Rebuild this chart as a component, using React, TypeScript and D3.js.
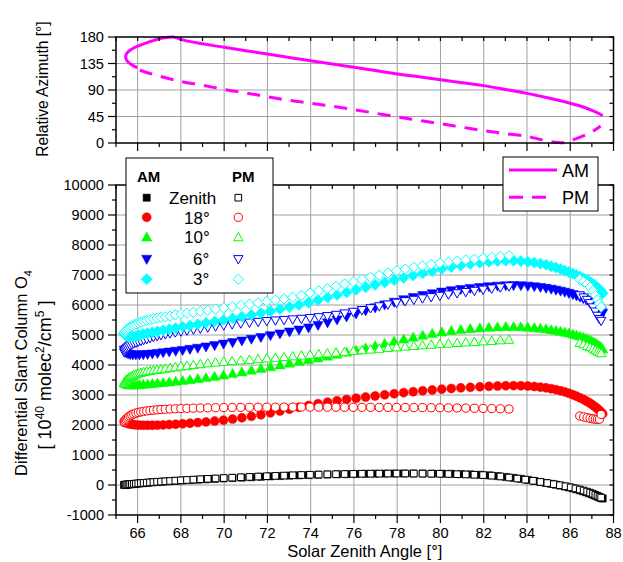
import React from 'react';
import * as d3 from 'd3';

// ---------------- data ----------------
// Morning (AM) solar zenith angles
const szaAM = [
  65.38, 65.42, 65.48, 65.56, 65.66, 65.78, 65.92, 66.08, 66.26, 66.46,
  66.68, 66.92, 67.18, 67.46, 67.76, 68.08, 68.42, 68.78, 69.16, 69.56,
  69.97, 70.39, 70.82, 71.26, 71.70, 72.14, 72.58, 73.02, 73.46, 73.90,
  74.34, 74.78, 75.22, 75.66, 76.10, 76.54, 76.98, 77.42, 77.86, 78.30,
  78.74, 79.18, 79.62, 80.06, 80.50, 80.94, 81.38, 81.82, 82.24, 82.64,
  83.02, 83.38, 83.72, 84.04, 84.34, 84.62, 84.88, 85.12, 85.34, 85.55,
  85.75, 85.94, 86.12, 86.29, 86.45, 86.60, 86.74, 86.87, 86.99, 87.10,
  87.20, 87.29, 87.37, 87.44, 87.50,
];
const zenithAM = [
  0, 5, 10, 15, 22, 30, 40, 50, 62, 75,
  88, 100, 112, 125, 138, 150, 163, 176, 190, 204,
  218, 232, 246, 260, 274, 288, 300, 312, 323, 333,
  342, 350, 357, 363, 369, 374, 378, 381, 383, 384,
  384, 383, 381, 378, 372, 364, 354, 341, 322, 298,
  268, 238, 205, 170, 135, 100, 68, 37, 8, -20,
  -50, -80, -112, -145, -178, -210, -243, -275, -307, -338,
  -368, -395, -418, -435, -450,
];
const deg18AM = [
  2130, 2100, 2075, 2050, 2030, 2015, 2003, 1995, 1990, 1988,
  1990, 1995, 2003, 2013, 2026, 2042, 2060, 2080, 2103, 2130,
  2162, 2198, 2240, 2288, 2340, 2405, 2465, 2528, 2590, 2652,
  2710, 2762, 2810, 2852, 2892, 2930, 2968, 3005, 3042, 3078,
  3110, 3140, 3168, 3195, 3218, 3238, 3256, 3273, 3288, 3300,
  3310, 3312, 3308, 3298, 3282, 3262, 3238, 3210, 3178, 3142,
  3102, 3058, 3010, 2960, 2908, 2855, 2800, 2745, 2690, 2635,
  2580, 2525, 2470, 2420, 2370,
];
const deg10AM = [
  3420, 3385, 3360, 3342, 3332, 3330, 3334, 3342, 3352, 3364,
  3378, 3394, 3412, 3432, 3455, 3480, 3508, 3540, 3576, 3616,
  3660, 3710, 3765, 3822, 3880, 3940, 4000, 4058, 4115, 4170,
  4228, 4290, 4355, 4422, 4492, 4565, 4640, 4715, 4790, 4860,
  4925, 4985, 5045, 5100, 5142, 5178, 5208, 5233, 5253, 5266,
  5274, 5276, 5270, 5258, 5242, 5222, 5198, 5172, 5145, 5118,
  5090, 5062, 5030, 4995, 4960, 4922, 4885, 4845, 4805, 4762,
  4718, 4672, 4625, 4580, 4530,
];
const deg6AM = [
  4500, 4440, 4400, 4370, 4350, 4340, 4338, 4340, 4345, 4355,
  4370, 4390, 4412, 4436, 4462, 4490, 4525, 4562, 4605, 4650,
  4700, 4750, 4805, 4862, 4920, 4980, 5040, 5105, 5170, 5240,
  5320, 5410, 5505, 5605, 5705, 5810, 5910, 6005, 6095, 6180,
  6255, 6320, 6380, 6435, 6482, 6522, 6557, 6587, 6612, 6632,
  6645, 6650, 6645, 6632, 6612, 6588, 6560, 6530, 6498, 6465,
  6430, 6392, 6352, 6310, 6265, 6218, 6170, 6120, 6068, 6015,
  5960, 5905, 5850, 5790, 5730,
];
const deg3AM = [
  5060, 5010, 4975, 4955, 4945, 4945, 4960, 4990, 5030, 5060,
  5090, 5120, 5155, 5190, 5230, 5275, 5315, 5358, 5402, 5450,
  5500, 5552, 5608, 5668, 5730, 5795, 5862, 5930, 6000, 6080,
  6165, 6250, 6335, 6420, 6505, 6590, 6672, 6752, 6830, 6905,
  6985, 7060, 7132, 7200, 7262, 7318, 7366, 7408, 7440, 7463,
  7478, 7478, 7465, 7440, 7410, 7378, 7342, 7290, 7245, 7195,
  7145, 7095, 7045, 6995, 6945, 6895, 6845, 6790, 6735, 6680,
  6620, 6560, 6500, 6445, 6390,
];

// Afternoon (PM) solar zenith angles
const szaPM = [
  65.38, 65.40, 65.43, 65.47, 65.52, 65.58, 65.65, 65.73, 65.82, 65.92,
  66.03, 66.15, 66.28, 66.42, 66.57, 66.73, 66.90, 67.08, 67.28, 67.50,
  67.74, 68.00, 68.28, 68.58, 68.90, 69.24, 69.60, 69.98, 70.37, 70.77,
  71.17, 71.57, 71.97, 72.37, 72.77, 73.17, 73.57, 73.97, 74.37, 74.77,
  75.17, 75.57, 75.97, 76.37, 76.77, 77.17, 77.57, 77.97, 78.37, 78.77,
  79.17, 79.57, 79.97, 80.37, 80.77, 81.17, 81.57, 81.97, 82.37, 82.77,
  83.17, 83.55, 83.92, 84.28, 84.62, 84.94, 85.24, 85.52, 85.78, 86.02,
  86.24, 86.44, 86.62, 86.78, 86.92, 87.05, 87.16, 87.26, 87.35, 87.43,
];
const N = null;
const zenithPM = [
  0, 3, 7, 11, 16, 21, 27, 33, 40, 47,
  54, 62, 70, 78, 87, 96, 105, 114, 124, 134,
  145, 156, 168, 180, 193, 206, 219, 232, 245, 258,
  270, 282, 293, 304, 314, 324, 333, 341, 348, 355,
  361, 366, 370, 374, 377, 379, 381, 382, 382, 381,
  379, 376, 372, 367, 360, 352, 342, 330, 312, 285,
  250, 215, 178, 140, 102, 65, 28, -8, -44, -80,
  -115, -150, -185, -220, -255, -290, -325, -360, -392, -420,
];
const deg18PM = [
  2080, 2110, 2150, 2190, 2230, 2270, 2305, 2338, 2368, 2395,
  2418, 2438, 2455, 2470, 2483, 2495, 2506, 2516, 2525, 2533,
  2541, 2548, 2555, 2561, 2567, 2572, 2577, 2581, 2585, 2588,
  2591, 2593, 2595, 2596, 2597, 2597, 2597, 2596, 2595, 2594,
  2593, 2592, 2591, 2590, 2589, 2588, 2587, 2586, 2584, 2582,
  2580, 2577, 2574, 2571, 2567, 2563, 2558, 2553, 2547, 2540,
  2532, N, N, N, N, N, N, N, N, N,
  N, 2300, 2270, 2245, 2222, 2205, 2193, 2188, 2195, 2350,
];
const deg10PM = [
  3390, 3420, 3455, 3490, 3525, 3560, 3595, 3628, 3660, 3690,
  3717, 3742, 3765, 3786, 3805, 3823, 3840, 3858, 3878, 3900,
  3924, 3950, 3975, 4000, 4030, 4058, 4083, 4108, 4130, 4152,
  4175, 4197, 4220, 4243, 4266, 4290, 4315, 4340, 4365, 4390,
  4415, 4440, 4466, 4492, 4518, 4543, 4568, 4592, 4615, 4637,
  4658, 4678, 4697, 4716, 4735, 4753, 4771, 4789, 4807, 4825,
  4843, N, N, N, N, N, N, N, N, N,
  N, 4740, 4690, 4640, 4595, 4550, 4500, 4455, 4420, 4395,
];
const deg6PM = [
  4420, 4455, 4495, 4535, 4575, 4615, 4652, 4688, 4718, 4745,
  4775, 4805, 4835, 4865, 4895, 4930, 4962, 4995, 5025, 5055,
  5085, 5118, 5150, 5182, 5215, 5250, 5285, 5320, 5355, 5385,
  5412, 5437, 5462, 5482, 5500, 5518, 5538, 5562, 5592, 5628,
  5670, 5718, 5770, 5830, 5892, 5955, 6015, 6075, 6125, 6172,
  6218, 6262, 6305, 6348, 6390, 6430, 6470, 6510, 6548, 6585,
  6622, N, N, N, N, N, N, N, N, N,
  N, 6320, 6250, 6170, 6060, 5920, 5780, 5640, 5530, 5470,
];
const deg3PM = [
  5060, 5090, 5120, 5155, 5190, 5228, 5265, 5300, 5335, 5368,
  5398, 5428, 5458, 5487, 5515, 5540, 5563, 5585, 5607, 5630,
  5670, 5700, 5730, 5758, 5788, 5820, 5860, 5900, 5945, 5990,
  6030, 6072, 6115, 6160, 6207, 6258, 6320, 6395, 6470, 6545,
  6622, 6700, 6775, 6850, 6922, 6995, 7068, 7140, 7200, 7255,
  7305, 7350, 7395, 7432, 7468, 7500, 7530, 7560, 7590, 7620,
  7650, N, N, N, N, N, N, N, N, N,
  N, 6850, 6780, 6700, 6600, 6470, 6320, 6170, 6040, 5930,
];

// Relative azimuth (top panel)
const azAMsza = [
  87.50, 87.30, 87.00, 86.70, 86.30, 86.00, 85.50, 85.00, 84.50, 84.00,
  83.00, 82.00, 81.00, 80.00, 79.00, 78.00, 77.00, 76.00, 75.00, 74.00,
  73.00, 72.00, 71.00, 70.00, 69.00, 68.30, 67.95, 67.65, 67.35, 67.00,
  66.72, 66.40, 66.10, 65.80, 65.58, 65.47, 65.45, 65.52, 65.70, 65.98,
];
const azAMval = [
  46.4, 50.5, 55.5, 59.8, 64.5, 67.6, 72.2, 76.5, 80.5, 84.3,
  91.0, 97.4, 102.5, 107.5, 112.4, 117.2, 123.0, 128.8, 134.0, 139.5,
  145.2, 151.1, 156.8, 162.5, 168.5, 173.0, 176.5, 180.0, 179.2, 177.0,
  173.8, 170.0, 165.8, 161.0, 155.5, 150.5, 145.0, 139.0, 133.5, 128.0,
];
const azPMsza = [
  66.10, 66.49, 67.03, 68.00, 69.00, 70.00, 71.00, 72.00, 73.00, 74.00,
  75.00, 76.00, 77.00, 78.00, 79.00, 80.00, 81.00, 82.00, 83.00, 84.00,
  84.50, 85.05, 85.40, 85.70, 86.00, 86.40, 86.74, 87.00, 87.28, 87.40,
];
const azPMval = [
  123.5, 118.9, 113.2, 104.5, 98.0, 91.0, 85.0, 78.5, 72.5, 67.5,
  62.3, 56.6, 50.5, 44.2, 38.5, 32.8, 26.8, 20.9, 16.0, 11.3,
  7.0, 2.8, 1.0, 0.6, 4.0, 9.0, 14.2, 19.0, 25.5, 29.0,
];

// Tick labels
const xTickLabels = [66, 68, 70, 72, 74, 76, 78, 80, 82, 84, 86, 88];
const yMainTickLabels = [-1000, 0, 1000, 2000, 3000, 4000, 5000, 6000, 7000, 8000, 9000, 10000];
const yTopTickLabels = [0, 45, 90, 135, 180];

// Series legend names / colours / symbols
const seriesNames = ['Zenith', '18°', '10°', '6°', '3°'];
const seriesColors = ['#000000', '#FF0000', '#00FF00', '#0000FF', '#00FFFF'];
const seriesShapes = ['square', 'circle', 'up', 'down', 'diamond'];
const amValues = [zenithAM, deg18AM, deg10AM, deg6AM, deg3AM];
const pmValues = [zenithPM, deg18PM, deg10PM, deg6PM, deg3PM];

// ---------------- drawing ----------------
const FONT = '"Liberation Sans", Arial, Helvetica, sans-serif';

function shapePath(shape: string, filled: boolean): string {
  const k = filled ? 1 : 0.92;
  switch (shape) {
    case 'square': {
      const r = 3.6 * k;
      return `M${-r},${-r}H${r}V${r}H${-r}Z`;
    }
    case 'circle': {
      const r = filled ? 4.5 : 4.1;
      return `M${r},0A${r},${r},0,1,1,${-r},0A${r},${r},0,1,1,${r},0Z`;
    }
    case 'up':
      return `M0,${-5.2 * k}L${5.1 * k},${3.9 * k}L${-5.1 * k},${3.9 * k}Z`;
    case 'down':
      return `M0,${5.2 * k}L${5.1 * k},${-3.9 * k}L${-5.1 * k},${-3.9 * k}Z`;
    default:
      return `M0,${-5.6 * k}L${5.6 * k},0L0,${5.6 * k}L${-5.6 * k},0Z`;
  }
}

function Marker({ shape, filled, color, cx, cy }: any) {
  return (
    <path
      d={shapePath(shape, filled)}
      transform={`translate(${cx},${cy})`}
      fill={filled ? color : '#FFFFFF'}
      stroke={color}
      strokeWidth={filled ? 0.5 : 1}
    />
  );
}

export default function App() {
  const XL = 116, XR = 613.5;
  const x = d3.scaleLinear().domain([65, 88]).range([XL, XR]);
  const yT = d3.scaleLinear().domain([0, 180]).range([143, 37]);
  const yM = d3.scaleLinear().domain([-1000, 10000]).range([515, 185]);

  const xMinor = d3.range(65, 88.001, 1);
  const yTopMinor = d3.range(0, 180.001, 22.5);
  const yMainMinor = d3.range(-1000, 10000.001, 500);

  const line = d3
    .line<[number, number]>()
    .x((d) => x(d[0]))
    .y((d) => yT(d[1]))
    .curve(d3.curveCatmullRom.alpha(0.5));
  const amPath = line(azAMsza.map((s, i) => [s, azAMval[i]] as [number, number])) || '';
  const pmPath = line(azPMsza.map((s, i) => [s, azPMval[i]] as [number, number])) || '';

  const grid = '#A0A0A0';
  const magenta = '#FF00FF';

  const frame = (top: number, bottom: number) => (
    <rect x={XL} y={top} width={XR - XL} height={bottom - top} fill="none" stroke="#000" strokeWidth={1.5} />
  );

  // legend row positions
  const legRows = [197.7, 217.3, 237.2, 259.2, 279.2];
  const legLabelX = [169, 184, 184, 193, 193];

  return (
    <svg
      width={623}
      height={562}
      viewBox="0 0 623 562"
      style={{ position: 'absolute', left: 0, top: 0, background: '#fff' }}
      fontFamily={FONT}
    >
      <rect x={0} y={0} width={623} height={562} fill="#fff" />

      {/* ---------- top panel ---------- */}
      <g>
        {xTickLabels.filter((t) => t < 88).map((t) => (
          <line key={'tgx' + t} x1={x(t)} x2={x(t)} y1={yT(0)} y2={yT(180)} stroke={grid} strokeWidth={1} />
        ))}
        {yTopTickLabels.filter((t) => t > 0 && t < 180).map((t) => (
          <line key={'tgy' + t} x1={XL} x2={XR} y1={yT(t)} y2={yT(t)} stroke={grid} strokeWidth={1} />
        ))}
        <path d={amPath} fill="none" stroke={magenta} strokeWidth={3} />
        <path d={pmPath} fill="none" stroke={magenta} strokeWidth={3} strokeDasharray="13,9" />
        {frame(37, 143)}
        {xMinor.map((t) => {
          const major = Math.round(t) % 2 === 0;
          return (
            <g key={'ttx' + t}>
              <line x1={x(t)} x2={x(t)} y1={143} y2={143 + (major ? 8 : 4)} stroke="#000" strokeWidth={1.2} />
              <line x1={x(t)} x2={x(t)} y1={37} y2={37 + 4} stroke="#000" strokeWidth={1.2} />
            </g>
          );
        })}
        {yTopMinor.map((t) => {
          const major = t % 45 === 0;
          return (
            <g key={'tty' + t}>
              <line x1={XL - (major ? 8 : 4)} x2={XL} y1={yT(t)} y2={yT(t)} stroke="#000" strokeWidth={1.2} />
              <line x1={XR - 4} x2={XR} y1={yT(t)} y2={yT(t)} stroke="#000" strokeWidth={1.2} />
            </g>
          );
        })}
        {yTopTickLabels.map((t) => (
          <text key={'tyl' + t} x={104} y={yT(t)} dy="0.36em" textAnchor="end" fontSize={14.6}>
            {t}
          </text>
        ))}
        <text transform={`translate(47.5,89) rotate(-90)`} textAnchor="middle" fontSize={15.6}>
          Relative Azimuth [°]
        </text>
      </g>

      {/* ---------- main panel ---------- */}
      <g>
        {xTickLabels.filter((t) => t < 88).map((t) => (
          <line key={'mgx' + t} x1={x(t)} x2={x(t)} y1={yM(-1000)} y2={yM(10000)} stroke={grid} strokeWidth={1} />
        ))}
        {yMainTickLabels.filter((t) => t > -1000 && t < 10000).map((t) => (
          <line key={'mgy' + t} x1={XL} x2={XR} y1={yM(t)} y2={yM(t)} stroke={grid} strokeWidth={1} />
        ))}

        {seriesNames.map((name, si) => (
          <g key={'s' + si}>
            {amValues[si].map((v, i) =>
              v === null ? null : (
                <Marker key={'a' + i} shape={seriesShapes[si]} filled={true} color={seriesColors[si]} cx={x(szaAM[i])} cy={yM(v as number)} />
              )
            )}
            {pmValues[si].map((v, i) =>
              v === null ? null : (
                <Marker key={'p' + i} shape={seriesShapes[si]} filled={false} color={seriesColors[si]} cx={x(szaPM[i])} cy={yM(v as number)} />
              )
            )}
          </g>
        ))}

        {frame(185, 515)}
        {xMinor.map((t) => {
          const major = Math.round(t) % 2 === 0;
          return (
            <g key={'mtx' + t}>
              <line x1={x(t)} x2={x(t)} y1={515} y2={515 + (major ? 8 : 4)} stroke="#000" strokeWidth={1.2} />
              <line x1={x(t)} x2={x(t)} y1={185} y2={185 + 4} stroke="#000" strokeWidth={1.2} />
            </g>
          );
        })}
        {yMainMinor.map((t) => {
          const major = t % 1000 === 0;
          return (
            <g key={'mty' + t}>
              <line x1={XL - (major ? 8 : 4)} x2={XL} y1={yM(t)} y2={yM(t)} stroke="#000" strokeWidth={1.2} />
              <line x1={XR - 4} x2={XR} y1={yM(t)} y2={yM(t)} stroke="#000" strokeWidth={1.2} />
            </g>
          );
        })}
        {yMainTickLabels.map((t) => (
          <text key={'myl' + t} x={104} y={yM(t)} dy="0.36em" textAnchor="end" fontSize={14.6}>
            {t}
          </text>
        ))}
        {xTickLabels.map((t) => (
          <text key={'mxl' + t} x={x(t)} y={538} textAnchor="middle" fontSize={14.6}>
            {t}
          </text>
        ))}
        <text x={(XL + XR) / 2} y={557} textAnchor="middle" fontSize={16.5}>
          Solar Zenith Angle [°]
        </text>
        <text transform={`translate(27,373) rotate(-90)`} textAnchor="middle" fontSize={16.5}>
          Differential Slant Column O
          <tspan dy={5} fontSize={11}>4</tspan>
        </text>
        <text transform={`translate(51,375) rotate(-90)`} textAnchor="middle" fontSize={18}>
          [ 10
          <tspan dy={-7} fontSize={12}>40</tspan>
          <tspan dy={7}> molec</tspan>
          <tspan dy={-7} fontSize={12}>2</tspan>
          <tspan dy={7}>/cm</tspan>
          <tspan dy={-7} fontSize={12}>5</tspan>
          <tspan dy={7}> ]</tspan>
        </text>
      </g>

      {/* ---------- legend: symbols ---------- */}
      <g>
        <rect x={126} y={158} width={147} height={135} fill="#fff" stroke="#000" strokeWidth={1} />
        <text x={137} y={182.4} fontSize={15} fontWeight="bold">AM</text>
        <text x={232} y={182.4} fontSize={15} fontWeight="bold">PM</text>
        {seriesNames.map((name, si) => (
          <g key={'lg' + si}>
            <Marker shape={seriesShapes[si]} filled={true} color={seriesColors[si]} cx={146.7} cy={legRows[si]} />
            <Marker shape={seriesShapes[si]} filled={false} color={seriesColors[si]} cx={238.3} cy={legRows[si]} />
            <text x={legLabelX[si]} y={legRows[si] + 6.2} fontSize={17}>
              {name}
            </text>
          </g>
        ))}
      </g>

      {/* ---------- legend: lines ---------- */}
      <g>
        <rect x={503} y={157} width={95} height={54} fill="#fff" stroke="#000" strokeWidth={1} />
        <line x1={509} x2={557} y1={170} y2={170} stroke={magenta} strokeWidth={3} />
        <line x1={509} x2={548} y1={197.3} y2={197.3} stroke={magenta} strokeWidth={3} strokeDasharray="14,9" />
        <text x={562} y={176.5} fontSize={18}>AM</text>
        <text x={562} y={203.8} fontSize={18}>PM</text>
      </g>
    </svg>
  );
}
